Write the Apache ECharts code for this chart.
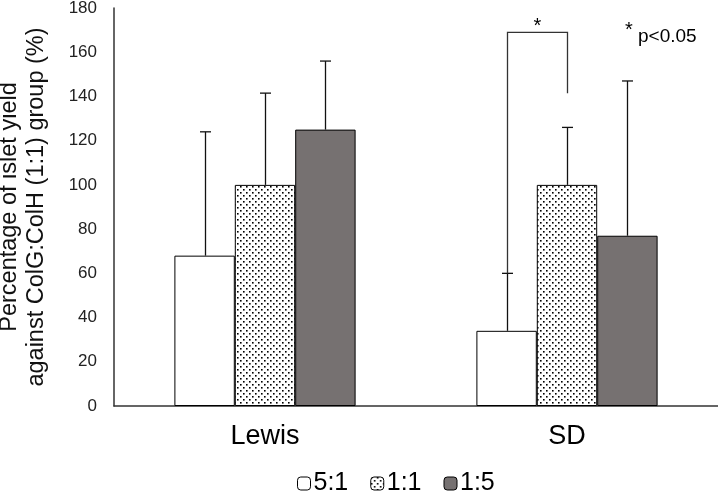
<!DOCTYPE html>
<html><head><meta charset="utf-8">
<script src="https://cdn.jsdelivr.net/npm/echarts@6/dist/echarts.min.js"></script>
<style>html,body{margin:0;padding:0;background:#fff}#c{width:718px;height:501px}</style>
</head><body><div id="c"></div>
<script>
const categories = ['Lewis', 'SD'];
const seriesNames = ['5:1', '1:1', '1:5'];
const means = { '5:1': [68, 34], '1:1': [100, 100], '1:5': [125, 77] };
const errTops = { '5:1': [124, 60], '1:1': [141.5, 126], '1:5': [156, 147] };
const yTicks = [0, 20, 40, 60, 80, 100, 120, 140, 160, 180];
const bracket = { cat: 'SD', from: 0, to: 1, leftBottom: 60, rightBottom: 141.5, top: 169 };

function dotPattern() {
  const c = document.createElement('canvas');
  c.width = 6; c.height = 6;
  const g = c.getContext('2d');
  g.fillStyle = '#fff'; g.fillRect(0, 0, 6, 6);
  g.fillStyle = '#000';
  g.fillRect(0, 0, 1.6, 1.6);
  g.fillRect(3, 3, 1.6, 1.6);
  return c;
}
const fills = { '5:1': '#ffffff', '1:1': { image: dotPattern(), repeat: 'repeat' }, '1:5': '#767171' };

const chart = echarts.init(document.getElementById('c'), null, { renderer: 'canvas' });
const barFrac = 0.2;
const nS = seriesNames.length;
function offsetFor(i) { return (i - (nS - 1) / 2) * barFrac; }
const FF = 'Liberation Sans, Arial, sans-serif';

const series = [];
seriesNames.forEach((s) => {
  series.push({
    name: s, type: 'bar', data: means[s], barGap: '0%', barCategoryGap: '40%',
    itemStyle: { color: fills[s], borderColor: '#000', borderWidth: 1 },
    z: 2
  });
});
seriesNames.forEach((s, i) => {
  series.push({
    type: 'custom', silent: true, z: 3,
    data: categories.map((c, k) => [k, means[s][k], errTops[s][k]]),
    renderItem: function (params, api) {
      const k = api.value(0);
      const bw = api.size([1, 0])[0];
      const p0 = api.coord([k, api.value(1)]);
      const p1 = api.coord([k, api.value(2)]);
      const x = Math.round(p0[0] + offsetFor(i) * bw) + 0.5;
      const cap = 5.5;
      return { type: 'group', children: [
        { type: 'line', shape: { x1: x, y1: p0[1], x2: x, y2: p1[1] }, style: { stroke: '#111', lineWidth: 1.3 } },
        { type: 'line', shape: { x1: x - cap, y1: p1[1], x2: x + cap, y2: p1[1] }, style: { stroke: '#111', lineWidth: 1.3 } }
      ]};
    }
  });
});
series.push({
  type: 'custom', silent: true, z: 3,
  data: [[categories.indexOf(bracket.cat), bracket.leftBottom, bracket.rightBottom, bracket.top]],
  renderItem: function (params, api) {
    const k = api.value(0);
    const bw = api.size([1, 0])[0];
    const c = api.coord([k, 0]);
    const xl = Math.round(c[0] + offsetFor(bracket.from) * bw) + 0.5;
    const xr = Math.round(c[0] + offsetFor(bracket.to) * bw) + 0.5;
    const yl = api.coord([k, api.value(1)])[1];
    const yr = api.coord([k, api.value(2)])[1];
    const yt = api.coord([k, api.value(3)])[1];
    return { type: 'group', children: [
      { type: 'polyline', shape: { points: [[xl, yl], [xl, yt], [xr, yt], [xr, yr]] }, style: { stroke: '#333', fill: null, lineWidth: 1.3 } },
      { type: 'text', style: { x: (xl + xr) / 2, y: yt - 16, text: '*', fontSize: 20, fontFamily: FF, fill: '#000', align: 'center', verticalAlign: 'top' } }
    ]};
  }
});

chart.setOption({
  animation: false,
  backgroundColor: '#fff',
  grid: { left: 114, right: 0, top: 8, bottom: 95, containLabel: false, outerBoundsMode: 'none' },
  legend: {
    data: seriesNames, bottom: 0, left: 292, itemWidth: 13, itemHeight: 13, itemGap: 22,
    textStyle: { fontSize: 25, fontFamily: FF, color: '#000', padding: [0, 0, 0, -2] },
    itemStyle: { borderColor: '#000', borderWidth: 1 }
  },
  xAxis: {
    type: 'category', data: categories,
    axisLine: { lineStyle: { color: '#333', width: 1.5 } }, axisTick: { show: false },
    axisLabel: { fontSize: 27, fontFamily: FF, color: '#000', margin: 17 }
  },
  yAxis: {
    type: 'value', min: 0, max: 180, interval: 20,
    axisLine: { show: true, lineStyle: { color: '#333', width: 1.5 } }, axisTick: { show: false },
    splitLine: { show: false },
    axisLabel: { fontSize: 17, fontFamily: FF, color: '#222', margin: 17,
      formatter: v => yTicks.includes(v) ? String(v) : '' },
    name: 'Percentage of islet yield\nagainst ColG:ColH (1:1) group (%)',
    nameLocation: 'middle', nameGap: 64, nameRotate: 90,
    nameTextStyle: { fontSize: 23.5, fontFamily: FF, color: '#111', lineHeight: 27 }
  },
  graphic: [
    { type: 'text', left: 625, top: 20, style: { text: '*', fontSize: 20, fontFamily: FF, fill: '#000' } },
    { type: 'text', left: 638, top: 27, style: { text: 'p<0.05', fontSize: 19, fontFamily: FF, fill: '#000' } }
  ],
  series: series
});
</script></body></html>
